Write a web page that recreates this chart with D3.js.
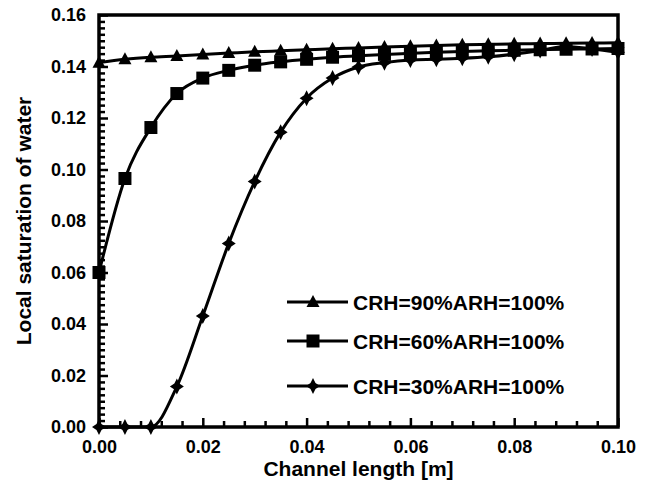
<!DOCTYPE html>
<html><head><meta charset="utf-8">
<script src="https://cdn.jsdelivr.net/npm/d3@7"></script>
<style>
html,body{margin:0;padding:0;background:#fff;}
svg{display:block;font-family:"Liberation Sans",Arial,Helvetica,sans-serif;font-weight:bold;}
</style></head>
<body><svg id="chart" width="647" height="489"></svg>
<script>
const xValues = [0,0.005,0.01,0.015,0.02,0.025,0.03,0.035,0.04,0.045,0.05,0.055,0.06,0.065,0.07,0.075,0.08,0.085,0.09,0.095,0.1];
const crh90 = [0.1415,0.1428,0.1436,0.1441,0.1447,0.1452,0.1457,0.1461,0.1465,0.1469,0.1472,0.1476,0.1479,0.1482,0.1484,0.1486,0.1488,0.1489,0.1490,0.1491,0.1492];
const crh60 = [0.060,0.0965,0.1163,0.1295,0.1355,0.1385,0.1405,0.1418,0.1428,0.1436,0.1442,0.1447,0.1451,0.1455,0.1458,0.1461,0.1463,0.1465,0.1467,0.1468,0.1470];
const crh30 = [0,0,0,0.0157,0.0431,0.0713,0.0953,0.1145,0.1277,0.1355,0.1398,0.1415,0.1425,0.1428,0.1432,0.1438,0.1448,0.1462,0.1478,0.1468,0.1455];
const seriesNames = ["CRH=90%ARH=100%","CRH=60%ARH=100%","CRH=30%ARH=100%"];
const xTickLabels = ["0.00","0.02","0.04","0.06","0.08","0.10"];
const yTickLabels = ["0.00","0.02","0.04","0.06","0.08","0.10","0.12","0.14","0.16"];
const xTitle = "Channel length [m]";
const yTitle = "Local saturation of water";

const svg = d3.select("#chart");
const L = 99, R = 618, T = 15, B = 427;
const x = d3.scaleLinear().domain([0,0.1]).range([L,R]);
const y = d3.scaleLinear().domain([0,0.16]).range([B,T]);

const xMinor = d3.range(0,0.1001,0.004).filter(v=>Math.abs(v/0.02-Math.round(v/0.02))>1e-6);
const yMinor = d3.range(0,0.1601,0.0025).filter(v=>Math.abs(v/0.02-Math.round(v/0.02))>1e-6);

svg.append("g").attr("transform",`translate(0,${B})`)
  .call(d3.axisBottom(x).tickValues(xMinor).tickSize(-6).tickFormat(""))
  .call(g=>{g.select(".domain").remove(); g.selectAll("line").attr("stroke-width",2.5);});
svg.append("g").attr("transform",`translate(${L},0)`)
  .call(d3.axisLeft(y).tickValues(yMinor).tickSize(-6).tickFormat(""))
  .call(g=>{g.select(".domain").remove(); g.selectAll("line").attr("stroke-width",2.5);});

svg.append("g").attr("transform",`translate(0,${B})`)
  .call(d3.axisBottom(x).tickValues(xTickLabels.map(Number)).tickSize(-9).tickPadding(13).tickFormat((d,i)=>xTickLabels[i]))
  .call(g=>{g.select(".domain").remove(); g.selectAll("line").attr("stroke-width",2.5);
    g.selectAll("text").attr("font-size",18).attr("font-family","Liberation Sans, Arial, sans-serif").attr("font-weight","bold").attr("fill","#000");});
svg.append("g").attr("transform",`translate(${L},0)`)
  .call(d3.axisLeft(y).tickValues(yTickLabels.map(Number)).tickSize(-9).tickPadding(13).tickFormat((d,i)=>yTickLabels[i]))
  .call(g=>{g.select(".domain").remove(); g.selectAll("line").attr("stroke-width",2.5);
    g.selectAll("text").attr("font-size",18).attr("font-family","Liberation Sans, Arial, sans-serif").attr("font-weight","bold").attr("fill","#000");});

svg.append("rect").attr("x",L).attr("y",T).attr("width",R-L).attr("height",B-T)
  .attr("fill","none").attr("stroke","#000").attr("stroke-width",3.5);

const triPath = "M0,-7L6.5,5L-6.5,5Z";
const sqPath = "M-6.5,-6.5H6.5V6.5H-6.5Z";
const diaPath = "M0,-8L2.5,-3L7,0L2.5,3L0,8L-2.5,3L-7,0L-2.5,-3Z";
const series = [
  {name:seriesNames[0], vals:crh90, path:triPath},
  {name:seriesNames[1], vals:crh60, path:sqPath},
  {name:seriesNames[2], vals:crh30, path:diaPath}
];
const line = d3.line().x(d=>x(d[0])).y(d=>y(d[1])).curve(d3.curveMonotoneX);
series.forEach(s=>{
  const pts = xValues.map((v,i)=>[v,s.vals[i]]);
  svg.append("path").datum(pts).attr("d",line).attr("fill","none").attr("stroke","#000").attr("stroke-width",3);
  svg.append("g").selectAll("path").data(pts).join("path")
    .attr("d",s.path).attr("transform",d=>`translate(${x(d[0])},${y(d[1])})`).attr("fill","#000");
});

const legY = [302,341,386];
series.forEach((s,i)=>{
  const g = svg.append("g").attr("transform",`translate(0,${legY[i]})`);
  g.append("line").attr("x1",287).attr("x2",348).attr("y1",0).attr("y2",0).attr("stroke","#000").attr("stroke-width",3);
  g.append("path").attr("d",s.path).attr("transform","translate(313,0)").attr("fill","#000");
  g.append("text").attr("x",353).attr("y",0).attr("dy","0.36em").attr("font-size",21).text(s.name);
});

svg.append("text").attr("x",(L+R)/2).attr("y",476).attr("text-anchor","middle").attr("font-size",21).text(xTitle);
svg.append("text").attr("transform",`translate(31,${(T+B)/2}) rotate(-90)`).attr("text-anchor","middle").attr("font-size",21).text(yTitle);
</script></body></html>
